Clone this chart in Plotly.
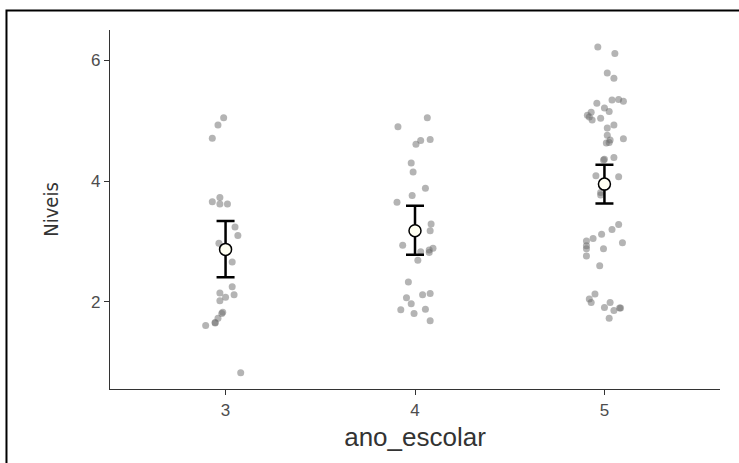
import plotly.graph_objects as go

# ---- data ----
categories = [3, 4, 5]
tick_labels = ["3", "4", "5"]

# jittered x positions and y values of the individual points
x_g3 = [2.99, 2.96, 2.93, 2.93, 2.97, 2.97, 3.01, 3.05, 3.065, 2.965, 3.035, 3.035,
        2.97, 3.045, 3.00, 2.97, 2.98, 2.985, 2.96, 2.945, 2.945, 2.895, 3.08]
y_g3 = [5.05, 4.93, 4.71, 3.66, 3.73, 3.62, 3.62, 3.24, 3.10, 2.97, 2.66, 2.25,
        2.15, 2.12, 2.08, 2.02, 1.81, 1.83, 1.73, 1.65, 1.66, 1.61, 0.83]

x_g4 = [4.065, 3.91, 4.08, 4.03, 4.005, 3.98, 3.99, 4.055, 3.985, 3.905, 4.085, 4.08,
        3.935, 4.095, 4.075, 4.075, 4.03, 4.015, 3.965, 3.955, 4.08, 4.04, 3.98,
        3.925, 4.055, 3.995, 4.08]
y_g4 = [5.05, 4.90, 4.69, 4.67, 4.61, 4.30, 4.15, 3.88, 3.76, 3.65, 3.29, 3.18,
        2.94, 2.89, 2.86, 2.82, 2.83, 2.69, 2.33, 2.07, 2.14, 2.12, 1.97,
        1.87, 1.88, 1.81, 1.69]

x_g5 = [4.965, 5.055, 5.015, 5.05, 5.04, 5.075, 5.10, 4.96, 5.00, 5.025, 4.93,
        4.91, 4.92, 4.935, 4.98, 5.05, 5.015, 5.015, 5.10, 5.03, 5.01, 5.025,
        5.05, 5.00, 4.995, 4.955, 5.075, 4.98, 4.98, 5.075, 5.04, 4.985, 4.94,
        4.905, 5.095, 4.905, 4.905, 4.995, 4.905, 4.975, 4.95, 4.92, 4.93, 5.03,
        5.00, 5.05, 5.08, 5.085, 5.025]
y_g5 = [6.22, 6.11, 5.79, 5.70, 5.34, 5.35, 5.32, 5.29, 5.21, 5.15, 5.14,
        5.09, 5.06, 5.01, 5.04, 4.93, 4.88, 4.76, 4.70, 4.68, 4.63, 4.64,
        4.39, 4.36, 4.35, 4.09, 4.07, 3.81, 3.77, 3.28, 3.20, 3.12, 3.05,
        3.01, 2.98, 2.93, 2.88, 2.88, 2.76, 2.60, 2.13, 2.05, 1.99, 1.99,
        1.91, 1.86, 1.90, 1.90, 1.73]

means = [2.87, 3.18, 3.95]
ci_upper = [3.34, 3.59, 4.27]
ci_lower = [2.41, 2.78, 3.63]

# ---- figure ----
fig = go.Figure()

point_color = "rgba(105,105,105,0.5)"
for xs, ys in [(x_g3, y_g3), (x_g4, y_g4), (x_g5, y_g5)]:
    fig.add_trace(go.Scatter(
        x=xs, y=ys, mode="markers",
        marker=dict(size=7, color=point_color, line=dict(width=0)),
        showlegend=False, hoverinfo="skip"))

fig.add_trace(go.Scatter(
    x=categories, y=means, mode="markers",
    marker=dict(size=12, color="#FFFFF2", line=dict(color="black", width=1.5)),
    error_y=dict(type="data", symmetric=False,
                 array=[u - m for u, m in zip(ci_upper, means)],
                 arrayminus=[m - l for m, l in zip(means, ci_lower)],
                 color="black", thickness=2.5, width=9),
    showlegend=False))

axis_col = "#333333"
font_fam = "Liberation Sans, Arial, sans-serif"
narrow_fam = "Liberation Sans Narrow, DejaVu Sans Condensed, Arial Narrow, sans-serif"

fig.update_layout(
    width=739, height=463,
    margin=dict(l=110, r=19, t=30, b=74),
    paper_bgcolor="white", plot_bgcolor="white",
    font=dict(family=font_fam),
    xaxis=dict(range=[2.39, 5.61], tickvals=categories, ticktext=tick_labels,
               showgrid=False, zeroline=False, showline=True, linecolor=axis_col,
               linewidth=1.3, ticks="outside", ticklen=5, tickwidth=1.3, tickcolor=axis_col,
               tickfont=dict(size=17, color="#4d4d4d"),
               title=dict(text="ano_escolar", font=dict(size=26, color="#333333"), standoff=9)),
    yaxis=dict(range=[0.56, 6.5], tickvals=[2, 4, 6], ticktext=["2", "4", "6"],
               showgrid=False, zeroline=False, showline=True, linecolor=axis_col,
               linewidth=1.3, ticks="outside", ticklen=5, tickwidth=1.3, tickcolor=axis_col,
               tickfont=dict(size=17, color="#4d4d4d"),
               title=dict(text="Niveis", font=dict(size=20, color="#333333", family=narrow_fam),
                          standoff=26)),
    shapes=[dict(type="rect", xref="paper", yref="paper",
                 x0=-0.1697, x1=1.3, y0=-0.6, y1=1.0543,
                 line=dict(color="black", width=2), fillcolor="rgba(0,0,0,0)")],
)

fig.write_html("out.html", config={"displayModeBar": False},
               post_script="document.body.style.margin='0';document.body.style.overflow='hidden';")
